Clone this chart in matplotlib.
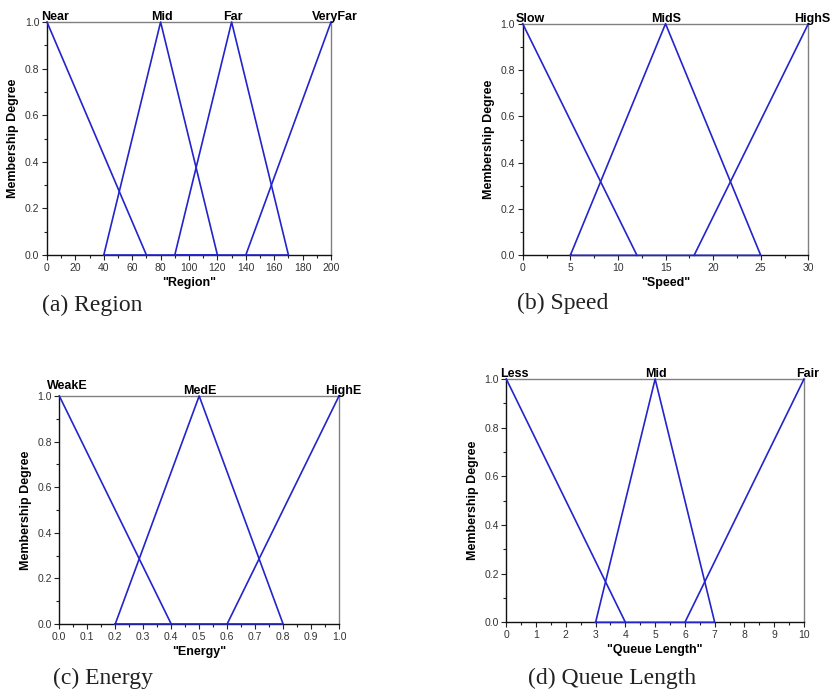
# Fuzzy membership functions for the four inputs (region, speed, energy, queue length)

import numpy as np
import matplotlib.pyplot as plt
from matplotlib.ticker import MultipleLocator, FormatStrFormatter

# each set is (left foot, peak, right foot); a shoulder has foot == peak
region_names = ['Near', 'Mid', 'Far', 'VeryFar']
region_sets = [(0, 0, 70), (40, 80, 120), (90, 130, 170), (140, 200, 200)]

speed_names = ['Slow', 'MidS', 'HighS']
speed_sets = [(0, 0, 12), (5, 15, 25), (18, 30, 30)]

energy_names = ['WeakE', 'MedE', 'HighE']
energy_sets = [(0.0, 0.0, 0.4), (0.2, 0.5, 0.8), (0.6, 1.0, 1.0)]

queue_names = ['Less', 'Mid', 'Fair']
queue_sets = [(0, 0, 4), (3, 5, 7), (6, 10, 10)]

line_col = '#2424cc'
sans = ['Liberation Sans', 'DejaVu Sans']
serif = ['Liberation Serif', 'DejaVu Serif']

fig = plt.figure(figsize=(8.33, 6.92), dpi=100)

panels = [
    # axes rect, names, sets, xmax, major, minor, fmt, xlabel, caption, caption pos, lift of first name
    ([0.0564, 0.6315, 0.341, 0.3367], region_names, region_sets, 200, 20, 10, '%d',
     '"Region"', '(a) Region', (42, 305), 2),
    ([0.6275, 0.631, 0.3429, 0.3347], speed_names, speed_sets, 30, 5, 2.5, '%d',
     '"Speed"', '(b) Speed', (517, 303), 2),
    ([0.0712, 0.0983, 0.3358, 0.3295], energy_names, energy_sets, 1.0, 0.1, 0.05, '%.1f',
     '"Energy"', '(c) Energy', (53, 678), 7),
    ([0.6078, 0.1007, 0.3574, 0.3516], queue_names, queue_sets, 10, 1, 0.5, '%d',
     '"Queue Length"', '(d) Queue Length', (528, 678), 2),
]

for rect, names, sets, xmax, major, minor, fmt, xlab, caption, cpos, lift in panels:
    ax = fig.add_axes(rect)
    for n, (a, b, c) in enumerate(sets):
        if a == b:
            xs, ys = [b, c], [1, 0]
        elif b == c:
            xs, ys = [a, b], [0, 1]
        else:
            xs, ys = [a, b, c, a], [0, 1, 0, 0]
        ax.plot(xs, ys, color=line_col, lw=1.2, clip_on=False, zorder=3)
        # name of the set sits on top of its peak
        if n == 0:
            dx, dy = 8, lift
        elif n == len(sets) - 1:
            dx, dy = 4, 2
        else:
            dx, dy = 1, 2
        ax.annotate(names[n], (b, 1.0), xytext=(dx * 0.72, dy * 0.72),
                    textcoords='offset points', ha='center', va='baseline',
                    fontsize=9, fontweight='bold', family=sans, annotation_clip=False)

    ax.set_xlim(0, xmax)
    ax.set_ylim(0, 1)
    ax.xaxis.set_major_locator(MultipleLocator(major))
    ax.xaxis.set_minor_locator(MultipleLocator(minor))
    ax.xaxis.set_major_formatter(FormatStrFormatter(fmt))
    ax.yaxis.set_major_locator(MultipleLocator(0.2))
    ax.yaxis.set_minor_locator(MultipleLocator(0.1))
    ax.yaxis.set_major_formatter(FormatStrFormatter('%.1f'))
    ax.tick_params(which='both', direction='out', top=False, right=False,
                   color='#222222', width=0.8, labelsize=7.5, labelcolor='#333333', pad=2)
    ax.tick_params(which='major', length=3.5)
    ax.tick_params(which='minor', length=2)
    for lab in ax.get_xticklabels() + ax.get_yticklabels():
        lab.set_family(sans)
    ax.spines['left'].set_color('#111111')
    ax.spines['bottom'].set_color('#111111')
    ax.spines['top'].set_color('#808080')
    ax.spines['right'].set_color('#808080')
    for s in ax.spines.values():
        s.set_linewidth(1.0)

    ax.set_ylabel('Membership Degree', fontsize=9, fontweight='bold', family=sans, labelpad=4)
    ax.set_xlabel(xlab, fontsize=9, fontweight='bold', family=sans, labelpad=3)

    fig.text(cpos[0] / 833, 1 - cpos[1] / 692, caption, ha='left', va='center',
             fontsize=17, family=serif, color='#222222')

fig.savefig('out.png', dpi=100)
